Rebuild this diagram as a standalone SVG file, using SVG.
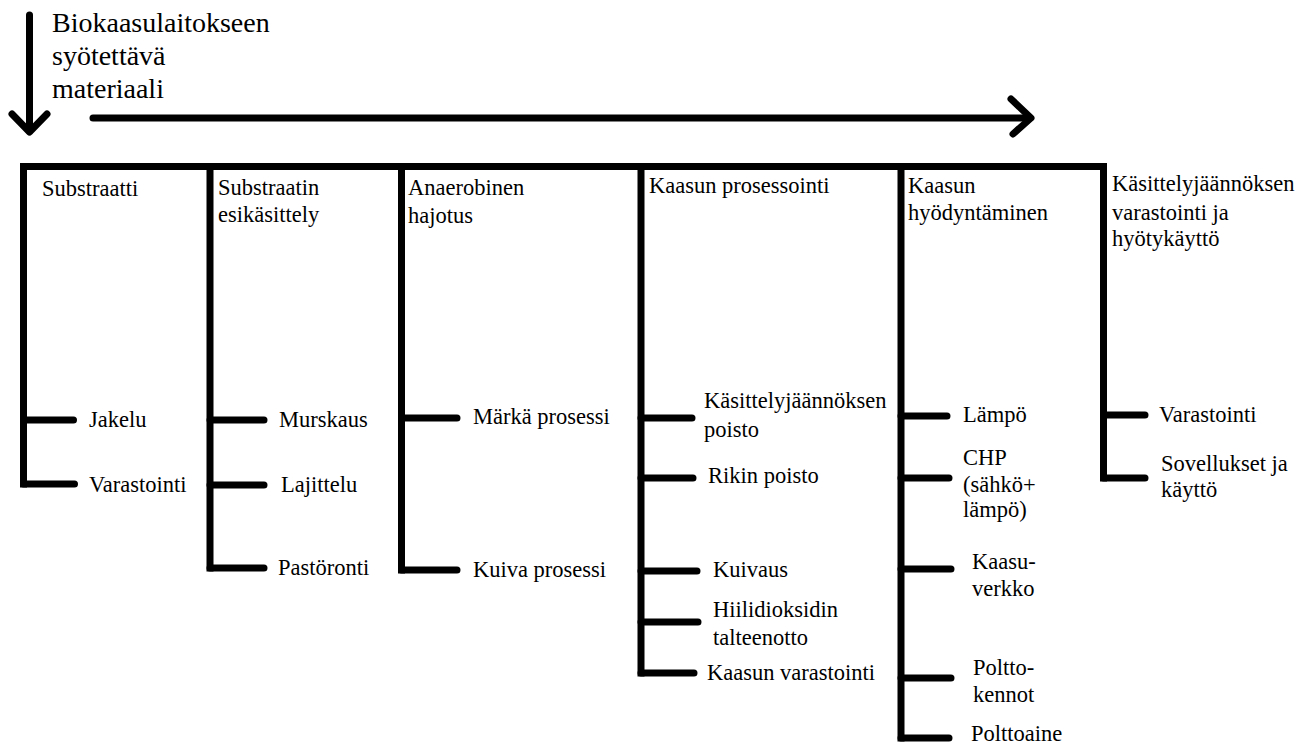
<svg xmlns="http://www.w3.org/2000/svg" width="1307" height="746" viewBox="0 0 1307 746" font-family="'Liberation Serif', 'Times New Roman', 'DejaVu Serif', serif">
<style>
.ln{fill:none;stroke:#000;stroke-width:7;stroke-linecap:butt;stroke-linejoin:miter}
.br{fill:none;stroke:#000;stroke-width:7;stroke-linecap:round}
.ar{fill:none;stroke:#000;stroke-width:7;stroke-linecap:round;stroke-linejoin:round}
.tx{font-family:'Liberation Serif','Times New Roman','DejaVu Serif',serif;font-size:22.5px;fill:#000}
.t{font-size:28px}
</style>
<rect width="1307" height="746" fill="#fff"/>
<g id="title" class="tx">
<text class="t" x="52" y="32">Biokaasulaitokseen</text>
<text class="t" x="52" y="65">syötettävä</text>
<text class="t" x="52" y="98">materiaali</text>
</g>
<g id="connectors">
<path class="ar" d="M29.5,15 L29.5,131"/>
<path class="ar" d="M12,114 L29.5,132 L47,114"/>
<path class="ar" d="M93,118 L1030,118"/>
<path class="ar" d="M1011,99 L1031,118 L1013,134"/>
<path class="ln" d="M20,166.5 L1107,166.5"/>
<path class="ln" d="M23.5,163 L23.5,487.5"/>
<path class="br" d="M23.5,420 L73.5,420 M23.5,484 L74.5,484"/>
<path class="ln" d="M210,163 L210,571.5"/>
<path class="br" d="M210,420 L264,420 M210,485 L264,485 M210,568 L264,568"/>
<path class="ln" d="M401.5,163 L401.5,573.5"/>
<path class="br" d="M401.5,418 L457,418 M401.5,570 L457,570"/>
<path class="ln" d="M641,163 L641,676.5"/>
<path class="br" d="M641,418 L692,418 M641,478 L693,478 M641,571 L697,571 M641,622 L698,622 M641,673 L694,673"/>
<path class="ln" d="M901,163 L901,741.5"/>
<path class="br" d="M901,416 L947,416 M901,478 L949,478 M901,569 L951,569 M901,678 L951,678 M901,738 L949,738"/>
<path class="ln" d="M1103.5,163 L1103.5,481.5"/>
<path class="br" d="M1103.5,415 L1145,415 M1103.5,478 L1145,478"/>
</g>
<g id="substraatti" class="tx">
<text x="42" y="196">Substraatti</text>
<text x="89" y="427">Jakelu</text>
<text x="89" y="492">Varastointi</text>
</g>
<g id="esikasittely" class="tx">
<text x="218" y="195">Substraatin</text>
<text x="218" y="222">esikäsittely</text>
<text x="279" y="427">Murskaus</text>
<text x="281" y="492">Lajittelu</text>
<text x="278" y="575">Pastöronti</text>
</g>
<g id="hajotus" class="tx">
<text x="408" y="195">Anaerobinen</text>
<text x="408" y="223">hajotus</text>
<text x="473" y="424">Märkä prosessi</text>
<text x="473" y="577">Kuiva prosessi</text>
</g>
<g id="prosessointi" class="tx">
<text x="649" y="193">Kaasun prosessointi</text>
<text x="704" y="408">Käsittelyjäännöksen</text>
<text x="704" y="437">poisto</text>
<text x="708" y="483">Rikin poisto</text>
<text x="713" y="577">Kuivaus</text>
<text x="713" y="617">Hiilidioksidin</text>
<text x="713" y="645">talteenotto</text>
<text x="707" y="680">Kaasun varastointi</text>
</g>
<g id="hyodyntaminen" class="tx">
<text x="908" y="193">Kaasun</text>
<text x="908" y="220">hyödyntäminen</text>
<text x="963" y="422">Lämpö</text>
<text x="963" y="465">CHP</text>
<text x="963" y="492">(sähkö+</text>
<text x="963" y="517">lämpö)</text>
<text x="972" y="569">Kaasu-</text>
<text x="972" y="596">verkko</text>
<text x="973" y="675">Poltto-</text>
<text x="973" y="702">kennot</text>
<text x="971" y="741">Polttoaine</text>
</g>
<g id="kasittelyjaannos" class="tx">
<text x="1112" y="191">Käsittelyjäännöksen</text>
<text x="1112" y="220">varastointi ja</text>
<text x="1112" y="246">hyötykäyttö</text>
<text x="1159" y="422">Varastointi</text>
<text x="1161" y="471">Sovellukset ja</text>
<text x="1161" y="497">käyttö</text>
</g>
</svg>
